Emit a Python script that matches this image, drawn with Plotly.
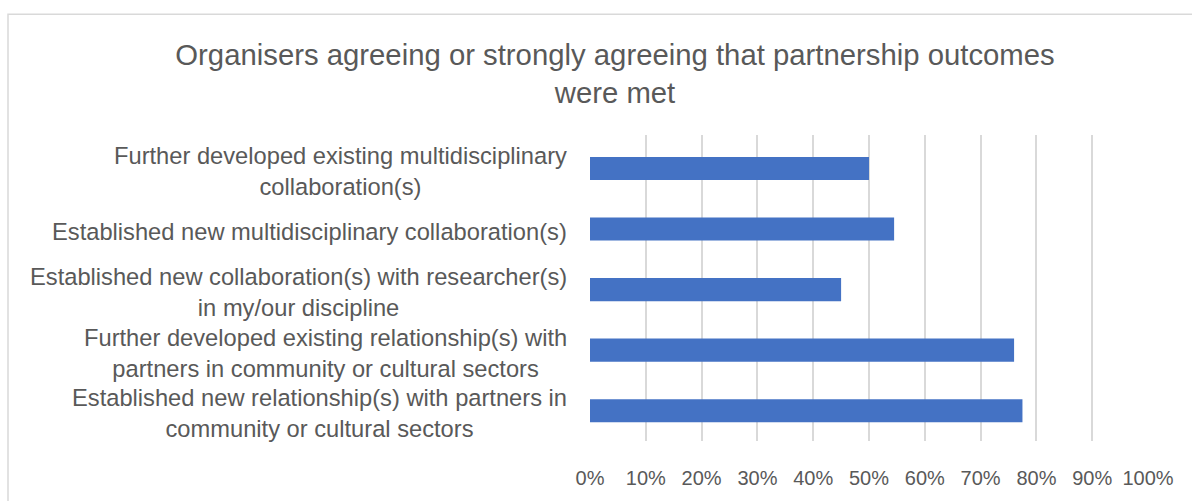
import plotly.graph_objects as go

# Survey outcome statements (top to bottom) and share of organisers agreeing
outcomes = [
    "Further developed existing multidisciplinary<br>collaboration(s)",
    "Established new multidisciplinary collaboration(s)",
    "Established new collaboration(s) with researcher(s)<br>in my/our discipline",
    "Further developed existing relationship(s) with<br>partners in community or cultural sectors",
    "Established new relationship(s) with partners in<br>community or cultural sectors",
]
share_agree = [0.50, 0.545, 0.45, 0.76, 0.775]

tick_values = [0, 0.1, 0.2, 0.3, 0.4, 0.5, 0.6, 0.7, 0.8, 0.9, 1.0]
tick_labels = ["0%", "10%", "20%", "30%", "40%", "50%", "60%", "70%", "80%", "90%", "100%"]

TEXT = "#595959"
GRID = "#d9d9d9"
FONT = "Liberation Sans, Arial, sans-serif"

W, H = 1192, 501
L, R, T, B = 590, 44, 135, 52
plot_w = W - L - R
plot_h = H - T - B

fig = go.Figure(
    go.Bar(
        x=share_agree,
        y=outcomes,
        orientation="h",
        marker=dict(color="#4472C4", line=dict(width=0)),
        hoverinfo="x+y",
    )
)

# Category labels drawn as centred multi-line text to the left of the axis
for label in outcomes:
    fig.add_annotation(
        x=0, xref="paper", y=label, yref="y",
        text=label, showarrow=False,
        xanchor="right", yanchor="middle", align="center",
        xshift=-21, yshift=-3,
        font=dict(family=FONT, size=23.7, color=TEXT),
    )

# Light chart-area frame
def px_to_paper_x(px):
    return (px - L) / plot_w

def px_to_paper_y(py):
    return (H - B - py) / plot_h

fig.add_shape(
    type="rect", xref="paper", yref="paper",
    x0=px_to_paper_x(8), x1=px_to_paper_x(1240),
    y0=px_to_paper_y(540), y1=px_to_paper_y(11),
    line=dict(color=GRID, width=1.5), fillcolor="rgba(0,0,0,0)",
    layer="below",
)

fig.update_layout(
    width=W, height=H,
    margin=dict(l=L, r=R, t=T, b=B),
    paper_bgcolor="white", plot_bgcolor="white",
    bargap=0.618,
    showlegend=False,
    title=dict(
        text="Organisers agreeing or strongly agreeing that partnership outcomes<br>were met",
        x=615 / W, xref="container", xanchor="center",
        y=1 - 65 / H, yref="container", yanchor="middle",
        font=dict(family=FONT, size=29.3, color=TEXT),
    ),
    font=dict(family=FONT, color=TEXT),
)

fig.update_xaxes(
    range=[0, 1],
    tickvals=tick_values, ticktext=tick_labels,
    showgrid=True, gridcolor=GRID, gridwidth=1.5,
    zeroline=False, showline=False, ticks="",
    ticklabelstandoff=23,
    tickfont=dict(family=FONT, size=20, color=TEXT),
    fixedrange=True,
)
fig.update_yaxes(
    categoryorder="array", categoryarray=outcomes,
    autorange="reversed",
    showticklabels=False, showgrid=False, zeroline=False,
    showline=False, ticks="",
    fixedrange=True,
)

fig.write_html("out.html")
